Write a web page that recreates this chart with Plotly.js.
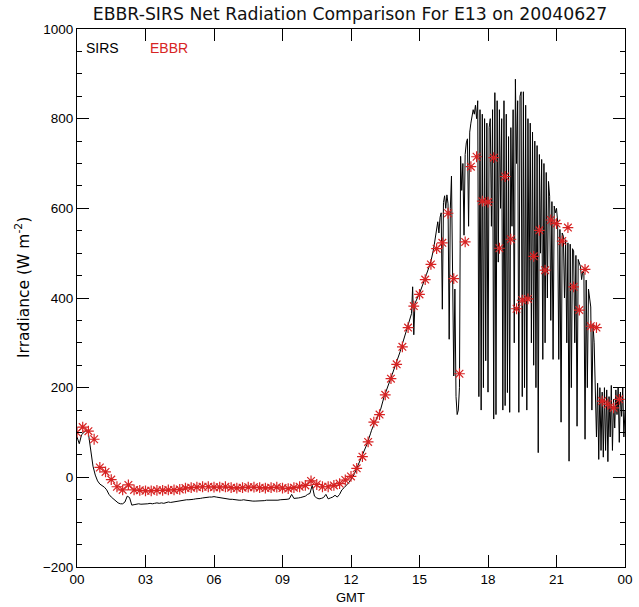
<!DOCTYPE html>
<html>
<head>
<meta charset="utf-8">
<script src="https://cdn.plot.ly/plotly-3.0.1.min.js"></script>
<style>
  html, body { margin: 0; padding: 0; background: #fff; }
  #chart { width: 639px; height: 607px; }
</style>
</head>
<body>
<div id="chart"></div>
<script>
// ---------------- DATA ----------------
// SIRS net radiation, night part: 0.0 h .. 12.0 h every 0.1 h (W m-2)
const sirsNightStart = 0.0;
const sirsNightStep = 0.1;
const sirsNightValues = [
  90, 75, 95, 100, 105, 98, 60, 25, 5, -8,
  -15, -18, -22, -28, -38, -44, -49, -53, -57, -59,
  -59, -55, -42, -45, -62, -61, -60, -59, -60, -60,
  -60, -59, -58, -59, -58, -57, -58, -57, -58, -56,
  -55, -56, -55, -54, -54, -53, -52, -51, -50, -50,
  -50, -49, -48, -48, -47, -46, -45, -45, -44, -44,
  -43, -44, -45, -46, -47, -48, -48, -49, -49, -50,
  -50, -51, -51, -50, -51, -52, -52, -53, -53, -53,
  -53, -52, -52, -51, -51, -52, -52, -51, -51, -50,
  -50, -49, -49, -48, -38, -47, -47, -46, -45, -44,
  -42, -38, -36, -18, -42, -46, -48, -47, -45, -38,
  -48, -46, -44, -40, -44, -38, -28, -23, -18, -12,
  -5
];
// SIRS net radiation, day part: 12.05 h .. 24.00 h every 0.05 h (W m-2)
const sirsDayStart = 12.05;
const sirsDayStep = 0.05;
const sirsDayValues = [
  -2, 3, 8, 14, 20, 24, 30, 35, 40, 47, 53, 60, 66, 74, 82, 88, 97, 105, 112, 118,
  124, 128, 133, 140, 146, 152, 163, 172, 180, 187, 195, 202, 207, 214, 222, 229, 236, 243, 250, 256,
  264, 272, 280, 289, 297, 305, 315, 322, 330, 338, 345, 352, 365, 425, 318, 388, 395, 400, 405, 410,
  418, 426, 432, 438, 445, 452, 458, 466, 474, 482, 492, 505, 520, 538, 555, 570, 545, 580, 590, 375,
  613, 628, 600, 630, 610, 308, 600, 672, 450, 226, 420, 180, 140, 150, 200, 716, 640, 700, 540, 720,
  746, 755, 560, 770, 790, 805, 820, 810, 830, 800, 840, 180, 820, 150, 810, 200, 800, 260, 790, 190,
  780, 800, 560, 820, 130, 858, 140, 840, 480, 820, 600, 800, 150, 840, 160, 810, 189, 760, 145, 780,
  560, 820, 300, 888, 700, 840, 145, 850, 860, 180, 860, 200, 830, 150, 800, 400, 790, 300, 770, 250,
  750, 200, 740, 55, 720, 500, 709, 263, 700, 300, 680, 400, 660, 627, 350, 615, 263, 605, 590, 600,
  570, 263, 553, 123, 545, 538, 400, 530, 300, 523, 36, 520, 200, 510, 505, 300, 495, 114, 486, 478,
  470, 441, 460, 455, 85, 440, 200, 420, 400, 380, 150, 340, 300, 220, 90, 210, 40, 200, 60, 190,
  45, 200, 60, 195, 35, 180, 90, 205, 60, 174, 110, 195, 140, 200, 78, 190, 136, 200, 90, 150
];
// EBBR net radiation: 0.00 h .. 23.75 h every 0.25 h (W m-2)
const ebbrStart = 0.0;
const ebbrStep = 0.25;
const ebbrValues = [
  100, 112, 103, 85, 22, 12, -5, -21,
  -28, -17, -28, -29, -30, -30, -29, -29,
  -28, -28, -27, -24, -23, -22, -21, -21,
  -22, -22, -21, -23, -24, -23, -22, -22,
  -23, -24, -23, -22, -24, -25, -23, -21,
  -18, -8, -16, -21, -21, -18, -14, -6,
  2, 20, 46, 79, 123, 140, 184, 220,
  252, 291, 334, 382, 408, 441, 475, 510,
  523, 589, 443, 231, 525, 693, 715, 616,
  614, 713, 511, 671, 531, 376, 395, 398,
  493, 551, 462, 574, 566, 527, 557, 425,
  373, 464, 337, 334, 170, 163, 155, 174
];
const xTickVals = [0, 3, 6, 9, 12, 15, 18, 21, 24];
const xTickText = ['00', '03', '06', '09', '12', '15', '18', '21', '00'];
const seriesNames = ['SIRS', 'EBBR'];
const chartTitle = 'EBBR-SIRS Net Radiation Comparison For E13 on 20040627';
const yTitle = 'Irradiance (W m<sup>-2</sup>)';
const xTitle = 'GMT';

// ---------------- BUILD ----------------
const sirsHours = [], sirsValues = [];
sirsNightValues.forEach((v, i) => { sirsHours.push(+(sirsNightStart + i * sirsNightStep).toFixed(3)); sirsValues.push(v); });
sirsDayValues.forEach((v, i) => { sirsHours.push(+(sirsDayStart + i * sirsDayStep).toFixed(3)); sirsValues.push(v); });
const ebbrHours = ebbrValues.map((v, i) => ebbrStart + i * ebbrStep);

const red = 'rgb(215,35,35)';
const font = 'Liberation Sans, Arial, sans-serif';
const wideFont = 'DejaVu Sans, sans-serif';

const traces = [
  { x: sirsHours, y: sirsValues, type: 'scatter', mode: 'lines', name: seriesNames[0],
    line: { color: '#000', width: 1 }, hoverinfo: 'skip' },
  { x: ebbrHours, y: ebbrValues, type: 'scatter', mode: 'markers', name: seriesNames[1],
    marker: { symbol: 'asterisk-open', size: 9, color: red, line: { color: red, width: 1.2 } }, hoverinfo: 'skip' }
];

const layout = {
  width: 639, height: 607,
  margin: { l: 77, r: 14, t: 29, b: 40, pad: 0 },
  paper_bgcolor: '#fff', plot_bgcolor: '#fff',
  showlegend: false,
  font: { family: font, size: 13, color: '#000' },
  title: { text: chartTitle, font: { family: wideFont, size: 17.3, color: '#111' },
           x: (350 - 77) / 548, xanchor: 'center', y: 1 - 14 / 607, yanchor: 'middle', xref: 'paper', yref: 'container' },
  xaxis: {
    range: [0, 24], tickmode: 'array', tickvals: xTickVals, ticktext: xTickText,
    ticks: 'inside', ticklen: 12, tickwidth: 1, tickcolor: '#000',
    showline: true, linecolor: '#000', linewidth: 1, mirror: 'ticks',
    showgrid: false, zeroline: false, tickfont: { family: font, size: 13.5, color: '#000' }
  },
  yaxis: {
    range: [-200, 1000], tickmode: 'linear', tick0: -200, dtick: 200,
    ticks: 'inside', ticklen: 12, tickwidth: 1, tickcolor: '#000',
    minor: { dtick: 50, tick0: -200, ticks: 'inside', ticklen: 5, tickwidth: 1, tickcolor: '#000', showgrid: false },
    showline: true, linecolor: '#000', linewidth: 1, mirror: 'ticks',
    showgrid: false, zeroline: false, tickfont: { family: font, size: 13.5, color: '#000' }
  },
  annotations: [
    { text: seriesNames[0], xref: 'paper', yref: 'paper', x: (102 - 77) / 548, y: (567 - 48) / 538,
      xanchor: 'center', yanchor: 'middle', showarrow: false, font: { family: font, size: 14, color: '#000' } },
    { text: seriesNames[1], xref: 'paper', yref: 'paper', x: (169 - 77) / 548, y: (567 - 48) / 538,
      xanchor: 'center', yanchor: 'middle', showarrow: false, font: { family: font, size: 14, color: red } },
    { text: yTitle, xref: 'paper', yref: 'paper', x: (22 - 77) / 548, y: (567 - 288) / 538, textangle: -90,
      xanchor: 'center', yanchor: 'middle', showarrow: false, font: { family: wideFont, size: 15.5, color: '#000' } },
    { text: xTitle, xref: 'paper', yref: 'paper', x: (350 - 77) / 548, y: (567 - 597) / 538,
      xanchor: 'center', yanchor: 'middle', showarrow: false, font: { family: font, size: 13, color: '#000' } }
  ]
};

Plotly.newPlot('chart', traces, layout, { displayModeBar: false, staticPlot: true });
</script>
</body>
</html>
